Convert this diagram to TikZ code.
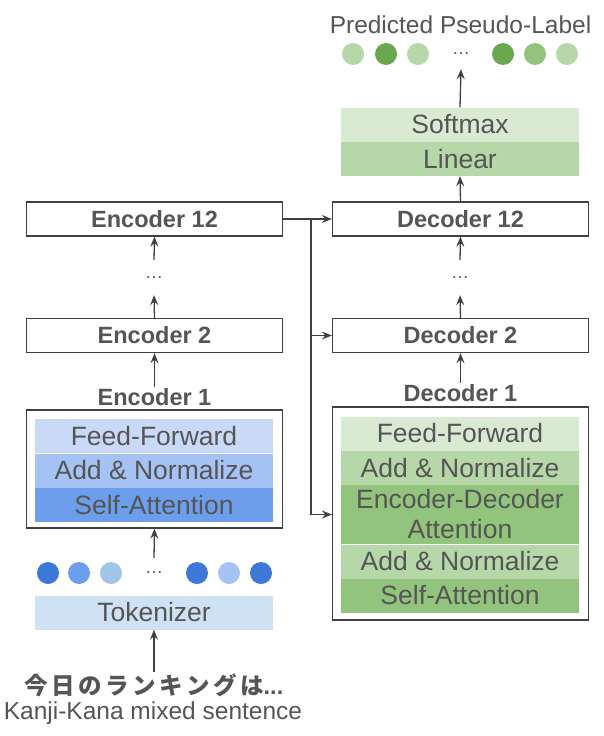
\documentclass[tikz,border=0pt]{standalone}
\usepackage{fontspec}
\setmainfont{Liberation Sans}
\newfontfamily\cjk[LetterSpace=15]{Noto Sans CJK JP}
\usetikzlibrary{positioning,arrows.meta,calc}
\definecolor{edge}{RGB}{64,64,64}
\definecolor{txt}{RGB}{85,85,85}
\definecolor{blue1}{HTML}{3C78D8}
\definecolor{blue2}{HTML}{6D9EEB}
\definecolor{blue3}{HTML}{A4C2F4}
\definecolor{blue4}{HTML}{9FC5E8}
\definecolor{blue5}{HTML}{C9DAF8}
\definecolor{blue6}{HTML}{CFE2F3}
\definecolor{green1}{HTML}{6AA84F}
\definecolor{green2}{HTML}{93C47D}
\definecolor{green3}{HTML}{B6D7A8}
\definecolor{green4}{HTML}{D9EAD3}
\tikzset{
  blk/.style={draw=edge, line width=1.3pt, fill=white, minimum width=256pt, minimum height=34pt, inner sep=0pt, text=txt, font=\fontsize{23.5}{26}\selectfont\bfseries},
  frame/.style={draw=edge, line width=1.3pt, minimum width=256pt, inner sep=0pt},
  layer/.style={fill=#1, minimum width=238pt, minimum height=34pt, inner sep=0pt, text=txt, align=center, font=\fontsize{26.5}{30}\selectfont},
  layer/.default={blue5},
  tok/.style={circle, fill=#1, minimum size=22pt, inner sep=0pt},
  arrow/.style={-{Stealth[length=10pt,width=8pt,inset=3.5pt]}, line width=1.3pt, draw=edge},
  lbl/.style={text=txt, inner sep=1pt, font=\fontsize{23.5}{26}\selectfont\bfseries},
  gap/.style={minimum height=35pt, inner sep=0pt, text=txt, font=\fontsize{18}{20}\selectfont},
  note/.style={text=txt, inner sep=1pt, font=\fontsize{24.5}{28}\selectfont}
}
\begin{document}
\begin{tikzpicture}[x=1pt, y=-1pt]
  \useasboundingbox (0,0) rectangle (603,736);
  % encoder side
  \node[frame, minimum height=118pt] (enc1) at (154.5,469) {};
  \node[layer=blue5] (eff) at (154,436) {Feed-Forward};
  \node[layer=blue3] (ean) at (154,470.5) {Add \& Normalize};
  \node[layer=blue2] (esa) at (154,505) {Self-Attention};
  \node[lbl] (enc1lbl) at (154.5,397) {Encoder 1};
  \node[blk] (enc2) at (154.5,335.5) {Encoder 2};
  \node[gap] (encdots) at (154,277.5) {\ldots};
  \node[blk] (enc12) at (154.5,219) {Encoder 12};
  % input tokens
  \node[tok=blue1] (t1) at (48,573) {};
  \node[tok=blue2] (t2) at (79,573) {};
  \node[tok=blue4] (t3) at (111,573) {};
  \node[gap, minimum height=30pt] (tdots) at (154,573) {\ldots};
  \node[tok=blue1] (t4) at (197,573) {};
  \node[tok=blue3] (t5) at (229,573) {};
  \node[tok=blue1] (t6) at (261,573) {};
  \node[layer=blue6] (tokz) at (154,612.5) {Tokenizer};
  \node[text=txt, inner sep=1pt, font=\fontsize{23.5}{26}\selectfont\bfseries] (jp) at (154,685) {{\cjk 今日のランキングは}...};
  \node[note] (jpnote) at (153,713) {Kanji-Kana mixed sentence};
  % decoder side
  \node[frame, minimum height=213pt] (dec1) at (460.5,513.5) {};
  \node[layer=green4] (dff) at (460,433.5) {Feed-Forward};
  \node[layer=green3] (dan1) at (460,468) {Add \& Normalize};
  \node[layer=green2, minimum height=59pt] (ded) at (460,514.5) {Encoder-Decoder\\Attention};
  \node[layer=green3] (dan2) at (460,561.5) {Add \& Normalize};
  \node[layer=green2] (dsa) at (460,595.5) {Self-Attention};
  \node[lbl] (dec1lbl) at (460.5,393) {Decoder 1};
  \node[blk] (dec2) at (460.5,335.5) {Decoder 2};
  \node[gap] (decdots) at (460,277.5) {\ldots};
  \node[blk] (dec12) at (460.5,219) {Decoder 12};
  \node[layer=green3] (lin) at (460,159) {Linear};
  \node[layer=green4] (smax) at (460,124.5) {Softmax};
  % output tokens
  \node[tok=green3] (p1) at (353,54) {};
  \node[tok=green1] (p2) at (386,54) {};
  \node[tok=green3] (p3) at (418,54) {};
  \node[gap, minimum height=30pt] (pdots) at (461,54) {\ldots};
  \node[tok=green1] (p4) at (503,54) {};
  \node[tok=green2] (p5) at (535,54) {};
  \node[tok=green3] (p6) at (567,54) {};
  \node[note] (plbl) at (460.5,25) {Predicted Pseudo-Label};
  \coordinate (junc) at (311,219);
  % connectors
  \draw[arrow] (jp.north) -- (tokz.south);
  \draw[arrow] (tdots.north) -- (enc1.south);
  \draw[arrow] (enc1lbl.north) -- (enc2.south);
  \draw[arrow] (enc2.north) -- (encdots.south);
  \draw[arrow] (encdots.north) -- (enc12.south);
  \draw[arrow] (enc12.east) -- (dec12.west);
  \draw[arrow] (junc) |- (ded.west -| dec1.west);
  \draw[arrow] (dec2.west -| junc) -- (dec2.west);
  \draw[arrow] (dec1lbl.north) -- (dec2.south);
  \draw[arrow] (dec2.north) -- (decdots.south);
  \draw[arrow] (decdots.north) -- (dec12.south);
  \draw[arrow] (dec12.north) -- (lin.south);
  \draw[arrow] (smax.north) -- (pdots.south);
\end{tikzpicture}
\end{document}
